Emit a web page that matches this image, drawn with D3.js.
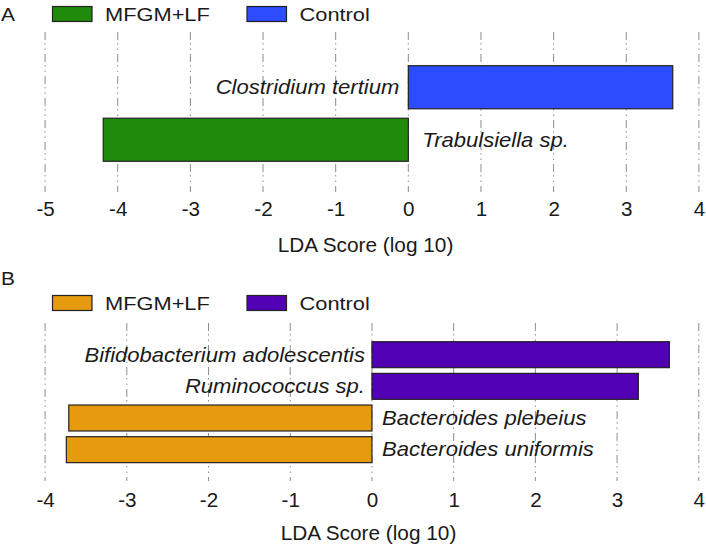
<!DOCTYPE html>
<html><head><meta charset="utf-8">
<script src="https://cdn.jsdelivr.net/npm/d3@7"></script>
<style>
body{margin:0;background:#fff;}
text{font-family:"Liberation Sans",Arial,sans-serif;fill:#1a1a1a;}
</style></head>
<body>
<svg id="chart" width="706" height="546"></svg>
<script>
// Panel A data
const catsA = ["Clostridium tertium", "Trabulsiella sp."];
const valsA = [3.64, -4.2];
const ticksA = [-5, -4, -3, -2, -1, 0, 1, 2, 3, 4];
const colorsA = {pos: "#2b4cff", neg: "#1f8a0c"};
// Panel B data
const catsB = ["Bifidobacterium adolescentis", "Ruminococcus sp.", "Bacteroides plebeius", "Bacteroides uniformis"];
const valsB = [3.64, 3.26, -3.71, -3.74];
const ticksB = [-4, -3, -2, -1, 0, 1, 2, 3, 4];
const colorsB = {pos: "#5200b4", neg: "#e69b0e"};
const legendLabels = ["MFGM+LF", "Control"];
const axisTitle = "LDA Score (log 10)";

const svg = d3.select("#chart");

function txt(g, x, y, s, opts) {
  opts = opts || {};
  return g.append("text")
    .attr("transform", `translate(${x},${y}) scale(${opts.sx || 1},1)`)
    .attr("text-anchor", opts.anchor || "start")
    .attr("dominant-baseline", "central")
    .style("font-size", (opts.size || 18) + "px")
    .style("font-style", opts.italic ? "italic" : "normal")
    .text(s);
}

function panel(cfg) {
  const g = svg.append("g");
  const x = d3.scaleLinear().domain(cfg.domain).range([cfg.x0, cfg.x1]);
  const y = d3.scaleBand().domain(cfg.cats).range(cfg.yRange).paddingInner(0.18).paddingOuter(0.09);

  // panel letter
  txt(g, 1, cfg.letterY, cfg.letter, {size: 19, sx: 1.1});

  // legend
  const leg = [{label: legendLabels[0], color: cfg.colors.neg, x: 52.5}, {label: legendLabels[1], color: cfg.colors.pos, x: 247}];
  leg.forEach(l => {
    g.append("rect").attr("x", l.x).attr("y", cfg.legY - 7.5).attr("width", 39.5).attr("height", 15)
      .attr("fill", l.color).attr("stroke", "#222").attr("stroke-width", 1.2);
    txt(g, l.x + 52.5, cfg.legY + 0.5, l.label, {size: 18.5, sx: 1.18});
  });

  // grid lines
  g.selectAll("line.grid").data(cfg.ticks).join("line")
    .attr("x1", d => x(d)).attr("x2", d => x(d))
    .attr("y1", cfg.gridTop).attr("y2", cfg.gridBottom)
    .attr("stroke", "#808080").attr("stroke-width", 0.9)
    .attr("stroke-dasharray", "8,3,1.5,4,1.5,4");

  // axis tick labels
  const ax = g.append("g").attr("transform", `translate(0,${cfg.tickY})`)
    .call(d3.axisBottom(x).tickValues(cfg.ticks).tickSize(0).tickPadding(0).tickFormat(d3.format("d")));
  ax.select(".domain").remove();
  ax.selectAll(".tick text").remove();
  ax.selectAll(".tick").each(function(d) {
    d3.select(this).append("text")
      .attr("transform", "scale(1.03,1)")
      .attr("text-anchor", "middle")
      .attr("dominant-baseline", "central")
      .attr("fill", "#1a1a1a")
      .style("font-size", "20px")
      .style("font-family", "'Liberation Sans',Arial,sans-serif")
      .text(d < 0 ? "-" + Math.abs(d) : d);
  });

  // bars
  const data = cfg.cats.map((c, i) => ({c, v: cfg.vals[i]}));
  g.selectAll("rect.bar").data(data).join("rect")
    .attr("x", d => x(Math.min(0, d.v)))
    .attr("width", d => Math.abs(x(d.v) - x(0)))
    .attr("y", d => y(d.c))
    .attr("height", y.bandwidth())
    .attr("fill", d => d.v >= 0 ? cfg.colors.pos : cfg.colors.neg)
    .attr("stroke", "#222").attr("stroke-width", 1.2);

  // labels
  data.forEach(d => {
    const yy = y(d.c) + y.bandwidth() / 2;
    if (d.v >= 0) txt(g, x(0) - cfg.gapR, yy, d.c, {anchor: "end", italic: true, size: 21, sx: 1.05});
    else txt(g, x(0) + cfg.gapL, yy, d.c, {anchor: "start", italic: true, size: 21, sx: 1.05});
  });

  // axis title
  txt(g, cfg.titleX, cfg.titleY, axisTitle, {anchor: "middle", size: 20, sx: 1.04});
}

panel({letter: "A", letterY: 14, legY: 14, cats: catsA, vals: valsA, ticks: ticksA, colors: colorsA,
  domain: [-5, 4], x0: 45.1, x1: 698.9, yRange: [61, 166], gridTop: 32, gridBottom: 192, tickY: 209,
  titleX: 365.5, titleY: 245, gapR: 9, gapL: 14});
panel({letter: "B", letterY: 278, legY: 303, cats: catsB, vals: valsB, ticks: ticksB, colors: colorsB,
  domain: [-4, 4], x0: 45.1, x1: 698.8, yRange: [338.85, 465.5], gridTop: 323, gridBottom: 481, tickY: 500,
  titleX: 368.5, titleY: 533, gapR: 7, gapL: 10});
</script>
</body></html>
